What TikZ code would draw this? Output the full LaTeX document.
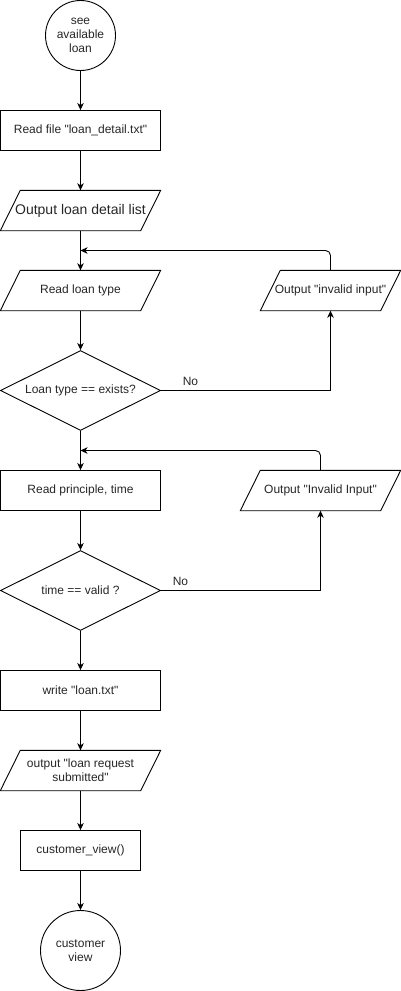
\documentclass[tikz,border=0pt]{standalone}
\usepackage{fontspec}
\newfontfamily\arialf{Liberation Sans}
\usetikzlibrary{shapes.geometric,arrows.meta}
\newcommand{\drawpara}[1]{\draw[lineclr] ([xshift=10pt]#1.north west) -- ([xshift=10pt]#1.north east) -- ([xshift=-10pt]#1.south east) -- ([xshift=-10pt]#1.south west) -- cycle;}
\begin{document}
\begin{tikzpicture}[x=1pt,y=-1pt,
  lineclr/.style={draw=black,line width=0.9pt},
  base/.style={font=\arialf\fontsize{12}{14}\selectfont,align=center,inner sep=1pt,text=black!85},
  procbox/.style={base,lineclr,rectangle,minimum width=160pt,minimum height=40pt},
  parabox/.style={base,rectangle,minimum width=140pt,minimum height=40pt},
  termcirc/.style={base,lineclr,circle},
  decbox/.style={base,lineclr,diamond,aspect=2,minimum width=160pt,minimum height=80pt},
  arr/.style={lineclr,-{Stealth[length=7pt,width=6.5pt,inset=2pt]}},
  lbl/.style={base,inner sep=0pt}]
\useasboundingbox (-0.5,-0.5) rectangle (400.5,990.5);
\node[termcirc,minimum size=70pt] (start) at (80,35) {see\\available\\loan};
\node[procbox] (readfile) at (80,130) {Read file "loan\_detail.txt"};
\node[parabox,font=\arialf\fontsize{14}{16}\selectfont] (outlist) at (80,210) {Output loan detail list};
\drawpara{outlist}
\node[parabox] (readtype) at (80,290) {Read loan type};
\drawpara{readtype}
\node[parabox,minimum width=120pt] (inv1) at (330,290) {Output "invalid input"};
\drawpara{inv1}
\node[decbox] (dec1) at (80,390) {Loan type == exists?};
\node[procbox] (readpt) at (80,490) {Read principle, time};
\node[parabox] (inv2) at (320,490) {Output "Invalid Input"};
\drawpara{inv2}
\node[decbox] (dec2) at (80,590) {time == valid ?};
\node[procbox] (write) at (80,690) {write "loan.txt"};
\node[parabox] (outreq) at (80,770) {output "loan request\\submitted"};
\drawpara{outreq}
\node[procbox,minimum width=120pt] (cview) at (80,850) {customer\_view()};
\node[termcirc,minimum size=80pt] (endc) at (80,950) {customer\\view};
\coordinate (j1) at (80,250);
\coordinate (j2) at (80,450);
\draw[arr] (start) -- (readfile);
\draw[arr] (readfile) -- (outlist);
\draw[arr] (outlist) -- (readtype);
\draw[arr] (readtype) -- (dec1);
\draw[arr] (dec1.east) -| (inv1.south);
\draw[arr,rounded corners=5pt] (inv1.north) |- (j1);
\draw[arr] (dec1.south) -- (readpt);
\draw[arr] (readpt) -- (dec2);
\draw[arr] (dec2.east) -| (inv2.south);
\draw[arr,rounded corners=5pt] (inv2.north) |- (j2);
\draw[arr] (dec2.south) -- (write);
\draw[arr] (write) -- (outreq);
\draw[arr] (outreq) -- (cview);
\draw[arr] (cview) -- (endc);
\node[lbl] (no1) at (190,381) {No};
\node[lbl] (no2) at (180,581) {No};
\end{tikzpicture}
\end{document}
